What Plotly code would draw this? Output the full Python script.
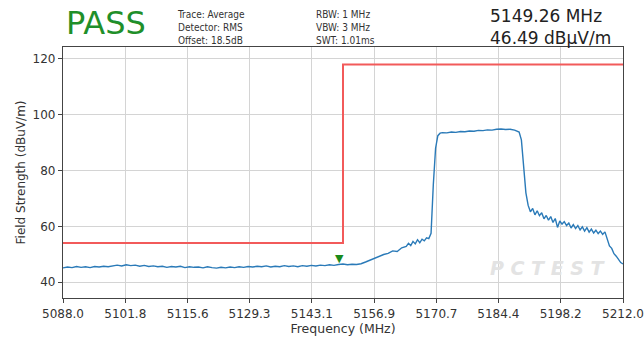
import plotly.graph_objects as go

# ---- data ----
x_ticks = [5088.0, 5101.8, 5115.6, 5129.3, 5143.1, 5156.9, 5170.7, 5184.4, 5198.2, 5212.0]
y_ticks = [40, 60, 80, 100, 120]

limit_freq = [5088.0, 5150.0, 5150.0, 5212.0]
limit_vals = [54, 54, 118, 118]

trace_freq = [
    5088, 5089, 5090, 5091, 5092, 5093, 5094, 5095, 5096, 5097,
    5098, 5099, 5100, 5101, 5102, 5103, 5104, 5105, 5106, 5107,
    5108, 5109, 5110, 5111, 5112, 5113, 5114, 5115, 5116, 5117,
    5118, 5119, 5120, 5121, 5122, 5123, 5124, 5125, 5126, 5127,
    5128, 5129, 5130, 5131, 5132, 5133, 5134, 5135, 5136, 5137,
    5138, 5139, 5140, 5141, 5142, 5143, 5144, 5145, 5146, 5147,
    5148, 5149, 5150, 5151, 5152, 5153,
    5154, 5155, 5156, 5157, 5158, 5159, 5160, 5161, 5162, 5163,
    5164, 5164.5, 5165, 5165.5, 5166, 5166.5, 5167, 5167.5, 5168, 5168.5, 5169,
    5169.5, 5170, 5170.5, 5171, 5171.5,
    5172, 5173, 5174, 5175, 5176, 5177, 5178, 5179, 5180, 5181,
    5182, 5183, 5184, 5185, 5186, 5187, 5188, 5189,
    5189.5, 5190, 5190.5, 5191,
    5191.5, 5192, 5192.5, 5193, 5193.5, 5194, 5194.5, 5195, 5195.5, 5196,
    5196.5, 5197, 5197.5, 5198, 5198.5, 5199, 5199.5, 5200, 5200.5, 5201,
    5201.5, 5202, 5202.5, 5203, 5203.5, 5204, 5204.5, 5205, 5205.5, 5206,
    5206.5, 5207, 5207.5, 5208,
    5208.5, 5209, 5209.5, 5210, 5210.5, 5211, 5211.5, 5212,
]
trace_vals = [
    45.1, 45.4, 45.2, 45.6, 45.3, 45.5, 45.2, 45.6, 45.4, 45.7,
    45.5, 45.9, 46.1, 45.8, 46.2, 45.9, 46.1, 45.7, 46.0, 45.6,
    45.8, 45.5, 45.7, 45.3, 45.6, 45.4, 45.7, 45.2, 45.5, 45.3,
    45.4, 45.1, 45.5, 45.2, 45.0, 45.3, 45.1, 45.4, 45.2, 45.5,
    45.3, 45.6, 45.4, 45.7, 45.5, 45.8, 45.4, 45.7, 45.5, 45.9,
    45.6, 45.8, 45.5, 45.9, 45.7, 46.0, 45.8, 46.1, 45.9, 46.2,
    46.0, 46.3, 46.5, 46.2, 46.4, 46.3,
    46.6, 47.2, 47.9, 48.6, 49.1, 49.9, 50.3, 51.2, 51.0, 52.3,
    52.8, 53.9, 53.1, 54.6, 53.7, 55.2, 54.1, 55.4, 54.8, 55.9, 55.6,
    57.5, 75.0, 88.0, 92.5, 93.4,
    93.6, 93.5, 93.8, 93.7, 94.0, 93.9, 94.2, 94.1, 94.4, 94.3,
    94.6, 94.5, 94.8, 94.9, 94.7, 94.8, 94.5, 93.8,
    91.0, 82.0, 72.0, 67.5,
    65.2, 66.4, 64.1, 65.6, 63.8, 64.9, 62.7, 63.9, 62.2, 63.5,
    61.4, 62.8, 59.6, 61.9, 60.8, 61.7, 60.3, 61.2, 59.4, 60.6,
    59.2, 60.3, 58.7, 59.8, 58.3, 59.5, 57.9, 59.0, 57.6, 58.6,
    57.4, 58.3, 57.1, 58.0,
    55.5, 53.0, 52.1, 50.2, 49.3, 47.9, 47.0, 46.5,
]

marker_freq = 5149.26
marker_val = 46.49

status = "PASS"
info_col1 = ["Trace: Average", "Detector: RMS", "Offset: 18.5dB"]
info_col2 = ["RBW: 1 MHz", "VBW: 3 MHz", "SWT: 1.01ms"]
marker_text = ["5149.26 MHz", "46.49 dBµV/m"]
watermark = "P C T E S T"

# ---- layout geometry ----
W, H = 644, 339
L, R, T, B = 63, 21, 47, 41


def px_x(p):
    return (p - L) / (W - L - R)


def px_y(p):
    return (H - B - p) / (H - B - T)


fig = go.Figure()

fig.add_trace(go.Scatter(
    x=limit_freq, y=limit_vals, mode="lines",
    line=dict(color="#f25a5a", width=2), hoverinfo="skip", showlegend=False,
))
fig.add_trace(go.Scatter(
    x=trace_freq, y=trace_vals, mode="lines",
    line=dict(color="#2a7ab8", width=1.4), showlegend=False,
))

fig.add_annotation(
    x=marker_freq, y=marker_val, xref="x", yref="y",
    text="▼", showarrow=False, xanchor="center", yanchor="bottom", yshift=-3,
    font=dict(color="#1a8a1a", size=11),
)

# watermark
fig.add_annotation(
    x=px_x(548), y=px_y(268), xref="paper", yref="paper", text=f"<b><i>{watermark}</i></b>",
    showarrow=False, xanchor="center", yanchor="middle",
    font=dict(family="DejaVu Sans", size=19, color="#e3e3e3"),
)

# header texts
fig.add_annotation(
    x=px_x(64), y=px_y(23), xref="paper", yref="paper", text=status,
    showarrow=False, xanchor="left", yanchor="middle",
    font=dict(family="DejaVu Sans", size=32, color="#1f8f2a"),
)
fig.add_annotation(
    x=px_x(175), y=px_y(27), xref="paper", yref="paper",
    text="<br>".join(info_col1), align="left",
    showarrow=False, xanchor="left", yanchor="middle",
    font=dict(family="DejaVu Sans Condensed, DejaVu Sans", size=10, color="#333333"),
)
fig.add_annotation(
    x=px_x(314), y=px_y(27), xref="paper", yref="paper",
    text="<br>".join(info_col2), align="left",
    showarrow=False, xanchor="left", yanchor="middle",
    font=dict(family="DejaVu Sans Condensed, DejaVu Sans", size=10, color="#333333"),
)
fig.add_annotation(
    x=px_x(488), y=px_y(27), xref="paper", yref="paper",
    text="<br>".join(marker_text), align="left",
    showarrow=False, xanchor="left", yanchor="middle",
    font=dict(family="DejaVu Sans", size=17, color="#222222"),
)

fig.update_layout(
    width=W, height=H,
    margin=dict(l=L, r=R, t=T, b=B, autoexpand=False),
    paper_bgcolor="white", plot_bgcolor="white",
    font=dict(family="DejaVu Sans", size=12, color="#333333"),
    xaxis=dict(
        range=[5088.0, 5212.0], tickvals=x_ticks,
        ticktext=[f"{v:.1f}" for v in x_ticks],
        showgrid=True, gridcolor="#d4d4d4", gridwidth=1,
        showline=True, linecolor="#444444", linewidth=1.2, mirror=True,
        ticks="outside", ticklen=4, tickcolor="#444444",
        tickfont=dict(size=12),
        title=dict(text="Frequency (MHz)", font=dict(size=12.5), standoff=2),
        zeroline=False, automargin=False,
    ),
    yaxis=dict(
        range=[34.3, 124.3], tickvals=y_ticks,
        showgrid=True, gridcolor="#d4d4d4", gridwidth=1,
        showline=True, linecolor="#444444", linewidth=1.2, mirror=True,
        ticks="outside", ticklen=4, tickcolor="#444444",
        tickfont=dict(size=12),
        title=dict(text="Field Strength (dBuV/m)", font=dict(size=12), standoff=4),
        zeroline=False, automargin=False,
    ),
)

fig.write_html(
    "out.html",
    config={"displayModeBar": False},
    post_script="document.body.style.margin='0';document.body.style.padding='0';",
)
